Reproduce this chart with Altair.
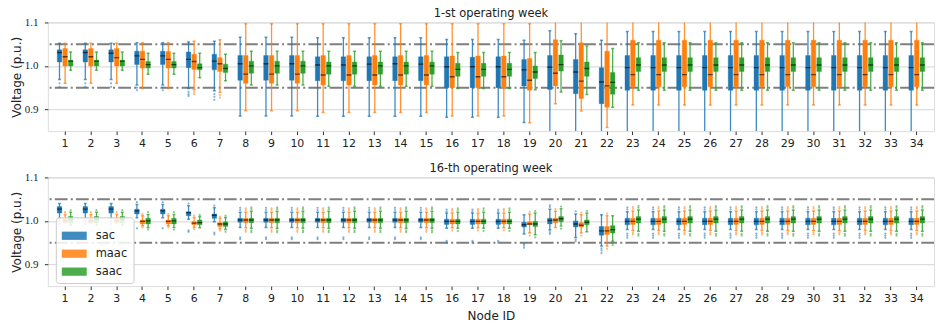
import altair as alt
import pandas as pd

NODES = list(range(1, 35))
SERIES = ["sac", "maac", "saac"]
COLORS = ["#1f77b4", "#ff7f0e", "#2ca02c"]
REF_LEVELS = [0.95, 1.05]
Y_TICKS = [0.9, 1.0, 1.1]
PANEL_TITLES = ["1-st operating week", "16-th operating week"]

# ---------------- week 1 : whisker-low, Q1, median, Q3, whisker-high ----------------
w1_sac_lo = [0.969, 0.969, 0.969, 0.956, 0.956, 0.948, 0.943, 0.885, 0.885, 0.885, 0.884, 0.884, 0.884, 0.884, 0.884, 0.882, 0.882, 0.882, 0.870, 0.80, 0.80, 0.80,
             0.80, 0.80, 0.80, 0.80, 0.80, 0.80, 0.80, 0.80, 0.80, 0.80, 0.80, 0.80]
w1_sac_q1 = [1.009, 1.009, 1.009, 1.003, 1.003, 0.996, 0.991, 0.967, 0.967, 0.967, 0.966, 0.966, 0.966, 0.966, 0.966, 0.950, 0.950, 0.950, 0.954, 0.946, 0.936, 0.913,
             0.944, 0.944, 0.944, 0.944, 0.944, 0.944, 0.944, 0.944, 0.944, 0.944, 0.944, 0.944]
w1_sac_med = [1.031, 1.031, 1.029, 1.023, 1.023, 1.015, 1.011, 1.005, 1.005, 1.005, 1.002, 1.002, 1.004, 1.005, 1.004, 0.998, 0.998, 0.998, 0.991, 0.997, 0.986, 0.963,
              0.996, 0.996, 0.996, 0.996, 0.996, 0.996, 0.996, 0.996, 0.996, 0.996, 0.996, 0.996]
w1_sac_q3 = [1.037, 1.037, 1.037, 1.034, 1.034, 1.032, 1.027, 1.024, 1.024, 1.024, 1.021, 1.021, 1.021, 1.021, 1.021, 1.021, 1.020, 1.021, 1.015, 1.024, 1.015, 0.996,
             1.024, 1.024, 1.024, 1.024, 1.024, 1.024, 1.024, 1.024, 1.024, 1.024, 1.024, 1.024]
w1_sac_hi = [1.052, 1.052, 1.052, 1.053, 1.053, 1.055, 1.057, 1.066, 1.066, 1.066, 1.065, 1.065, 1.065, 1.065, 1.065, 1.061, 1.061, 1.061, 1.059, 1.081, 1.074, 1.059,
             1.079, 1.079, 1.079, 1.079, 1.079, 1.079, 1.079, 1.079, 1.079, 1.079, 1.079, 1.079]

w1_maac_lo = [0.960, 0.960, 0.960, 0.948, 0.948, 0.945, 0.939, 0.897, 0.897, 0.897, 0.893, 0.893, 0.893, 0.893, 0.893, 0.885, 0.885, 0.885, 0.869, 0.913, 0.896, 0.858,
              0.910, 0.910, 0.910, 0.910, 0.910, 0.910, 0.910, 0.910, 0.910, 0.910, 0.910, 0.910]
w1_maac_q1 = [1.000, 1.000, 1.000, 0.995, 0.995, 0.992, 0.987, 0.960, 0.960, 0.960, 0.956, 0.956, 0.956, 0.956, 0.956, 0.950, 0.950, 0.949, 0.944, 0.954, 0.925, 0.905,
              0.952, 0.952, 0.952, 0.952, 0.952, 0.952, 0.952, 0.952, 0.952, 0.952, 0.952, 0.952]
w1_maac_med = [1.021, 1.021, 1.019, 1.015, 1.015, 1.010, 1.005, 0.981, 0.981, 0.981, 0.979, 0.979, 0.979, 0.979, 0.979, 0.975, 0.975, 0.975, 0.967, 0.983, 0.965, 0.954,
               0.980, 0.980, 0.980, 0.980, 0.980, 0.980, 0.980, 0.980, 0.980, 0.980, 0.980, 0.980]
w1_maac_q3 = [1.040, 1.040, 1.040, 1.034, 1.033, 1.027, 1.019, 1.024, 1.024, 1.024, 1.024, 1.024, 1.024, 1.024, 1.024, 1.023, 1.023, 1.023, 1.017, 1.060, 1.053, 1.034,
              1.059, 1.059, 1.059, 1.059, 1.059, 1.059, 1.059, 1.059, 1.059, 1.059, 1.059, 1.059]
w1_maac_hi = [1.052, 1.052, 1.052, 1.053, 1.053, 1.057, 1.060, 1.097, 1.097, 1.097, 1.097, 1.097, 1.097, 1.097, 1.097, 1.097, 1.097, 1.097, 1.097, 1.150, 1.150, 1.150,
              1.150, 1.150, 1.150, 1.150, 1.150, 1.150, 1.150, 1.150, 1.150, 1.150, 1.150, 1.150]

w1_saac_lo = [0.990, 0.990, 0.990, 0.981, 0.981, 0.973, 0.966, 0.956, 0.956, 0.956, 0.953, 0.953, 0.953, 0.953, 0.953, 0.948, 0.948, 0.948, 0.945, 0.940, 0.934, 0.905,
              0.944, 0.944, 0.944, 0.944, 0.944, 0.944, 0.944, 0.944, 0.944, 0.944, 0.944, 0.944]
w1_saac_q1 = [1.000, 1.000, 1.000, 0.995, 0.995, 0.991, 0.985, 0.983, 0.983, 0.983, 0.981, 0.981, 0.981, 0.981, 0.981, 0.976, 0.976, 0.976, 0.971, 0.988, 0.976, 0.935,
              0.987, 0.987, 0.987, 0.987, 0.987, 0.987, 0.987, 0.987, 0.987, 0.987, 0.987, 0.987]
w1_saac_med = [1.011, 1.011, 1.011, 1.003, 1.003, 0.996, 0.994, 1.000, 1.000, 1.000, 1.000, 1.000, 1.000, 1.000, 1.000, 0.992, 0.992, 0.992, 0.986, 1.003, 0.994, 0.962,
               1.002, 1.002, 1.002, 1.002, 1.002, 1.002, 1.002, 1.002, 1.002, 1.002, 1.002, 1.002]
w1_saac_q3 = [1.013, 1.013, 1.013, 1.010, 1.010, 1.005, 1.004, 1.011, 1.011, 1.011, 1.009, 1.009, 1.009, 1.009, 1.009, 1.006, 1.006, 1.006, 1.000, 1.025, 1.009, 0.985,
              1.019, 1.019, 1.019, 1.019, 1.019, 1.019, 1.019, 1.019, 1.019, 1.019, 1.019, 1.019]
w1_saac_hi = [1.032, 1.032, 1.032, 1.029, 1.029, 1.029, 1.027, 1.034, 1.034, 1.034, 1.034, 1.034, 1.034, 1.034, 1.034, 1.031, 1.031, 1.031, 1.031, 1.058, 1.046, 1.040,
              1.053, 1.053, 1.053, 1.053, 1.053, 1.053, 1.053, 1.053, 1.053, 1.053, 1.053, 1.053]

# outliers (one list per node)
w1_sac_fl = [[0.960, 0.952], [0.960, 0.952], [0.960, 0.952], [0.950, 0.944], [0.950, 0.944], [0.940, 0.935, 0.931], [0.935, 0.929, 0.922],
             [], [], [], [], [], [], [], [], [], [], [], [], [], [], [], [], [], [], [], [], [], [], [], [], [], [], []]
w1_maac_fl = [[], [], [], [], [], [0.940, 0.935], [0.933, 0.927],
              [], [], [], [], [], [], [], [], [], [], [], [], [], [], [], [], [], [], [], [], [], [], [], [], [], [], []]
w1_saac_fl = [[], [], [], [], [], [], [], [], [], [], [], [], [], [], [], [], [], [], [], [], [], [], [], [], [], [], [], [], [], [], [], [], [], []]

# ---------------- week 16 ----------------
w16_sac_lo = [1.006, 1.006, 1.006, 1.007, 1.007, 1.004, 0.998, 0.985, 0.985, 0.985, 0.985, 0.985, 0.985, 0.985, 0.985, 0.983, 0.983, 0.983, 0.970, 0.979, 0.962, 0.942,
              0.980, 0.980, 0.980, 0.980, 0.980, 0.980, 0.980, 0.980, 0.980, 0.980, 0.980, 0.980]
w16_sac_q1 = [1.018, 1.018, 1.018, 1.016, 1.016, 1.012, 1.006, 0.997, 0.997, 0.997, 0.997, 0.997, 0.997, 0.997, 0.997, 0.992, 0.992, 0.992, 0.986, 0.993, 0.986, 0.967,
              0.991, 0.991, 0.991, 0.991, 0.991, 0.991, 0.991, 0.991, 0.991, 0.991, 0.991, 0.991]
w16_sac_med = [1.027, 1.027, 1.027, 1.023, 1.023, 1.019, 1.013, 1.002, 1.002, 1.002, 1.002, 1.002, 1.002, 1.002, 1.002, 0.999, 0.999, 0.999, 0.991, 1.001, 0.993, 0.977,
               0.999, 0.999, 0.999, 0.999, 0.999, 0.999, 0.999, 0.999, 0.999, 0.999, 0.999, 0.999]
w16_sac_q3 = [1.033, 1.033, 1.033, 1.027, 1.027, 1.021, 1.016, 1.006, 1.006, 1.006, 1.006, 1.006, 1.006, 1.006, 1.006, 1.004, 1.004, 1.004, 0.997, 1.006, 1.000, 0.987,
              1.006, 1.006, 1.006, 1.006, 1.006, 1.006, 1.006, 1.006, 1.006, 1.006, 1.006, 1.006]
w16_sac_hi = [1.040, 1.040, 1.040, 1.038, 1.038, 1.035, 1.030, 1.020, 1.020, 1.020, 1.020, 1.020, 1.020, 1.020, 1.020, 1.018, 1.018, 1.018, 1.014, 1.027, 1.016, 1.014,
              1.021, 1.021, 1.021, 1.021, 1.021, 1.021, 1.021, 1.021, 1.021, 1.021, 1.021, 1.021]

w16_maac_lo = [0.995, 0.995, 0.995, 0.989, 0.989, 0.985, 0.982, 0.984, 0.984, 0.984, 0.984, 0.984, 0.984, 0.984, 0.984, 0.984, 0.984, 0.984, 0.972, 0.985, 0.972, 0.942,
               0.978, 0.978, 0.978, 0.978, 0.978, 0.978, 0.978, 0.978, 0.978, 0.978, 0.978, 0.978]
w16_maac_q1 = [0.996, 0.996, 0.996, 0.993, 0.993, 0.991, 0.987, 0.996, 0.996, 0.996, 0.996, 0.996, 0.996, 0.996, 0.996, 0.993, 0.993, 0.993, 0.991, 0.996, 0.986, 0.969,
               0.992, 0.992, 0.992, 0.992, 0.992, 0.992, 0.992, 0.992, 0.992, 0.992, 0.992, 0.992]
w16_maac_med = [1.000, 1.000, 1.000, 0.999, 0.999, 0.995, 0.993, 1.002, 1.002, 1.002, 1.002, 1.002, 1.002, 1.002, 1.002, 0.999, 0.999, 0.999, 0.993, 1.002, 0.990, 0.977,
                0.999, 0.999, 0.999, 0.999, 0.999, 0.999, 0.999, 0.999, 0.999, 0.999, 0.999, 0.999]
w16_maac_q3 = [1.006, 1.006, 1.006, 1.002, 1.002, 0.998, 0.996, 1.006, 1.006, 1.006, 1.006, 1.006, 1.006, 1.006, 1.006, 1.004, 1.004, 1.004, 0.998, 1.006, 0.996, 0.987,
               1.006, 1.006, 1.006, 1.006, 1.006, 1.006, 1.006, 1.006, 1.006, 1.006, 1.006, 1.006]
w16_maac_hi = [1.015, 1.015, 1.015, 1.012, 1.012, 1.008, 1.006, 1.020, 1.020, 1.020, 1.020, 1.020, 1.020, 1.020, 1.020, 1.018, 1.018, 1.018, 1.016, 1.022, 1.014, 1.012,
               1.023, 1.023, 1.023, 1.023, 1.023, 1.023, 1.023, 1.023, 1.023, 1.023, 1.023, 1.023]

w16_saac_lo = [0.990, 0.990, 0.990, 0.985, 0.985, 0.984, 0.980, 0.983, 0.983, 0.983, 0.983, 0.983, 0.983, 0.983, 0.983, 0.983, 0.983, 0.983, 0.968, 0.988, 0.975, 0.953,
               0.976, 0.976, 0.976, 0.976, 0.976, 0.976, 0.976, 0.976, 0.976, 0.976, 0.976, 0.976]
w16_saac_q1 = [0.996, 0.996, 0.996, 0.993, 0.993, 0.991, 0.987, 0.996, 0.996, 0.996, 0.996, 0.996, 0.996, 0.996, 0.996, 0.993, 0.993, 0.993, 0.987, 0.998, 0.991, 0.972,
               0.995, 0.995, 0.995, 0.995, 0.995, 0.995, 0.995, 0.995, 0.995, 0.995, 0.995, 0.995]
w16_saac_med = [1.004, 1.004, 1.004, 1.000, 1.000, 0.996, 0.993, 1.002, 1.002, 1.002, 1.002, 1.002, 1.002, 1.002, 1.002, 0.999, 0.999, 0.999, 0.993, 1.005, 0.997, 0.980,
                1.004, 1.004, 1.004, 1.004, 1.004, 1.004, 1.004, 1.004, 1.004, 1.004, 1.004, 1.004]
w16_saac_q3 = [1.010, 1.010, 1.010, 1.006, 1.006, 1.002, 0.998, 1.006, 1.006, 1.006, 1.006, 1.006, 1.006, 1.006, 1.006, 1.004, 1.004, 1.004, 0.999, 1.010, 1.002, 0.989,
               1.010, 1.010, 1.010, 1.010, 1.010, 1.010, 1.010, 1.010, 1.010, 1.010, 1.010, 1.010]
w16_saac_hi = [1.020, 1.020, 1.020, 1.015, 1.015, 1.010, 1.008, 1.022, 1.022, 1.022, 1.022, 1.022, 1.022, 1.022, 1.022, 1.020, 1.020, 1.020, 1.018, 1.028, 1.018, 1.012,
               1.025, 1.025, 1.025, 1.025, 1.025, 1.025, 1.025, 1.025, 1.025, 1.025, 1.025, 1.025]

w16_sac_fl = [[0.999, 0.993], [0.999, 0.993], [0.999, 0.993], [0.983, 1.043], [0.983, 1.043], [0.975, 0.978, 1.040], [0.969, 0.973, 1.035],
              [0.958, 0.962, 1.025, 1.030], [0.958, 0.962, 1.025, 1.030], [0.958, 0.962, 1.025, 1.030], [0.958, 0.962, 1.025, 1.030],
              [0.958, 0.962, 1.025, 1.030], [0.958, 0.962, 1.025, 1.030], [0.958, 0.962, 1.025, 1.030], [0.958, 0.962, 1.025, 1.030],
              [0.950, 0.954, 1.022, 1.026], [0.950, 0.954, 1.022, 1.026], [0.950, 0.954, 1.022, 1.026], [0.938, 0.943, 0.947],
              [0.970, 0.974, 1.032, 1.036], [0.953, 0.957, 1.022], [0.926, 0.932, 0.937],
              [0.961, 0.966, 0.971, 1.026, 1.031], [0.961, 0.966, 0.971, 1.026, 1.031], [0.961, 0.966, 0.971, 1.026, 1.031],
              [0.961, 0.966, 0.971, 1.026, 1.031], [0.961, 0.966, 0.971, 1.026, 1.031], [0.961, 0.966, 0.971, 1.026, 1.031],
              [0.961, 0.966, 0.971, 1.026, 1.031], [0.961, 0.966, 0.971, 1.026, 1.031], [0.961, 0.966, 0.971, 1.026, 1.031],
              [0.961, 0.966, 0.971, 1.026, 1.031], [0.961, 0.966, 0.971, 1.026, 1.031], [0.961, 0.966, 0.971, 1.026, 1.031]]
w16_maac_fl = [[1.020], [1.020], [1.020], [1.016, 0.985], [1.016, 0.985], [1.012, 0.981], [1.010, 0.978],
               [1.025, 1.029, 0.979, 0.975], [1.025, 1.029, 0.979, 0.975], [1.025, 1.029, 0.979, 0.975], [1.025, 1.029, 0.979, 0.975],
               [1.025, 1.029, 0.979, 0.975], [1.025, 1.029, 0.979, 0.975], [1.025, 1.029, 0.979, 0.975], [1.025, 1.029, 0.979, 0.975],
               [1.023, 1.027, 0.978], [1.023, 1.027, 0.978], [1.023, 1.027, 0.978], [1.021, 0.966], [1.027], [1.019, 0.966], [0.936, 1.017],
               [1.028, 1.032, 0.973, 0.969], [1.028, 1.032, 0.973, 0.969], [1.028, 1.032, 0.973, 0.969], [1.028, 1.032, 0.973, 0.969],
               [1.028, 1.032, 0.973, 0.969], [1.028, 1.032, 0.973, 0.969], [1.028, 1.032, 0.973, 0.969], [1.028, 1.032, 0.973, 0.969],
               [1.028, 1.032, 0.973, 0.969], [1.028, 1.032, 0.973, 0.969], [1.028, 1.032, 0.973, 0.969], [1.028, 1.032, 0.973, 0.969]]
w16_saac_fl = [[1.025], [1.025], [1.025], [1.020, 0.980], [1.020, 0.980], [1.014], [1.012, 0.975],
               [1.027, 1.031, 0.978, 0.974], [1.027, 1.031, 0.978, 0.974], [1.027, 1.031, 0.978, 0.974], [1.027, 1.031, 0.978, 0.974],
               [1.027, 1.031, 0.978, 0.974], [1.027, 1.031, 0.978, 0.974], [1.027, 1.031, 0.978, 0.974], [1.027, 1.031, 0.978, 0.974],
               [1.025, 1.029, 0.977], [1.025, 1.029, 0.977], [1.025, 1.029, 0.977], [1.023, 0.962], [1.033, 0.982], [1.023], [0.948, 0.944],
               [1.030, 1.034, 0.970, 0.966], [1.030, 1.034, 0.970, 0.966], [1.030, 1.034, 0.970, 0.966], [1.030, 1.034, 0.970, 0.966],
               [1.030, 1.034, 0.970, 0.966], [1.030, 1.034, 0.970, 0.966], [1.030, 1.034, 0.970, 0.966], [1.030, 1.034, 0.970, 0.966],
               [1.030, 1.034, 0.970, 0.966], [1.030, 1.034, 0.970, 0.966], [1.030, 1.034, 0.970, 0.966], [1.030, 1.034, 0.970, 0.966]]


def box_frame(stats):
    rows = []
    for s in SERIES:
        lo, q1, med, q3, hi = stats[s]
        for i, n in enumerate(NODES):
            rows.append(dict(node=n, series=s, lo=lo[i], q1=q1[i], med=med[i], q3=q3[i], hi=hi[i]))
    return pd.DataFrame(rows)


def flier_frame(fl):
    rows = []
    for s in SERIES:
        for i, n in enumerate(NODES):
            for v in fl[s][i]:
                rows.append(dict(node=n, series=s, value=v))
    return pd.DataFrame(rows, columns=["node", "series", "value"])


w1_box = box_frame({
    "sac": (w1_sac_lo, w1_sac_q1, w1_sac_med, w1_sac_q3, w1_sac_hi),
    "maac": (w1_maac_lo, w1_maac_q1, w1_maac_med, w1_maac_q3, w1_maac_hi),
    "saac": (w1_saac_lo, w1_saac_q1, w1_saac_med, w1_saac_q3, w1_saac_hi),
})
w16_box = box_frame({
    "sac": (w16_sac_lo, w16_sac_q1, w16_sac_med, w16_sac_q3, w16_sac_hi),
    "maac": (w16_maac_lo, w16_maac_q1, w16_maac_med, w16_maac_q3, w16_maac_hi),
    "saac": (w16_saac_lo, w16_saac_q1, w16_saac_med, w16_saac_q3, w16_saac_hi),
})
w1_fl = flier_frame({"sac": w1_sac_fl, "maac": w1_maac_fl, "saac": w1_saac_fl})
w16_fl = flier_frame({"sac": w16_sac_fl, "maac": w16_maac_fl, "saac": w16_saac_fl})
ref_df = pd.DataFrame({"level": REF_LEVELS})

PLOT_W = 889
PLOT_H = 109


def panel(box_df, fl_df, title, last):
    xaxis = alt.Axis(labelAngle=0, title="Node ID" if last else None, labelFont="DejaVu Sans",
                     labelFontSize=11, labelColor="#222", tickColor="#333", tickSize=3.5,
                     labelPadding=3, domain=False, grid=False, titleFont="DejaVu Sans",
                     titleFontSize=12, titleFontWeight="normal", titleColor="#222", titlePadding=7)
    x = alt.X("node:O", scale=alt.Scale(paddingInner=0, paddingOuter=0.168), axis=xaxis)
    xo = alt.XOffset("series:N", scale=alt.Scale(domain=SERIES, paddingInner=0.18, paddingOuter=0.9))
    ysc = alt.Scale(domain=[0.85, 1.1], nice=False, zero=False)
    yaxis = alt.Axis(values=Y_TICKS, format=".1f", title="Voltage (p.u.)", grid=True,
                     gridColor="#dddddd", gridWidth=1.3, labelFont="Liberation Serif", labelFontSize=11,
                     labelColor="#222", tickColor="#333", tickSize=3.5, labelPadding=6.5, domain=False,
                     titleFont="DejaVu Sans", titleFontSize=12, titleFontWeight="normal",
                     titleColor="#222", titlePadding=1)
    cscale = alt.Scale(domain=SERIES, range=COLORS)
    if last:
        legend = alt.Legend(title=None, orient="none", legendX=8, legendY=40, direction="vertical",
                            symbolType="M-1,-0.33L1,-0.33L1,0.33L-1,0.33Z", symbolSize=625,
                            symbolStrokeWidth=0, labelFont="DejaVu Sans", labelFontSize=11.5,
                            labelColor="#222", labelOffset=9, rowPadding=0, padding=6,
                            strokeColor="#cccccc", fillColor="rgba(255,255,255,0.85)",
                            cornerRadius=3)
    else:
        legend = None
    color = alt.Color("series:N", scale=cscale, legend=legend)
    stroke = alt.Stroke("series:N", scale=cscale, legend=None)

    refs = alt.Chart(ref_df).mark_rule(color="#7f7f7f", strokeWidth=2,
                                        strokeDash=[12.8, 3.2, 2, 3.2]).encode(
        y=alt.Y("level:Q", scale=ysc, axis=yaxis))
    base = alt.Chart(box_df)
    whisk = base.mark_rule(strokeWidth=1.3, opacity=0.85, clip=True).encode(
        x=x, xOffset=xo, y=alt.Y("lo:Q", scale=ysc, axis=yaxis), y2="hi:Q", color=color)
    cap_lo = base.mark_tick(size=3, thickness=1.5, clip=True).encode(
        x=x, xOffset=xo, y=alt.Y("lo:Q", scale=ysc, axis=yaxis), color=color)
    cap_hi = base.mark_tick(size=3, thickness=1.5, clip=True).encode(
        x=x, xOffset=xo, y=alt.Y("hi:Q", scale=ysc, axis=yaxis), color=color)
    boxes = base.mark_bar(clip=True, strokeWidth=1, strokeOpacity=0.35).encode(
        x=x, xOffset=xo, y=alt.Y("q1:Q", scale=ysc, axis=yaxis), y2="q3:Q", color=color, stroke=stroke)
    meds = base.mark_tick(size=5, thickness=1.4, color="#000000", opacity=0.6, clip=True).encode(
        x=x, xOffset=xo, y=alt.Y("med:Q", scale=ysc, axis=yaxis))
    fliers = alt.Chart(fl_df).mark_circle(size=5, opacity=0.55, clip=True).encode(
        x=x, xOffset=xo, y=alt.Y("value:Q", scale=ysc, axis=yaxis), color=color)

    return alt.layer(refs, whisk, cap_lo, cap_hi, boxes, meds, fliers).properties(
        width=PLOT_W, height=PLOT_H,
        title=alt.TitleParams(title, font="DejaVu Sans", fontSize=11.5, fontWeight="normal",
                              color="#222", offset=-3, anchor="middle"))


top = panel(w1_box, w1_fl, PANEL_TITLES[0], False)
bottom = panel(w16_box, w16_fl, PANEL_TITLES[1], True)

chart = alt.vconcat(top, bottom, spacing=13.5).resolve_legend(color="independent").properties(
    padding={"left": 9, "top": 7, "right": 0, "bottom": 0}
).configure_view(stroke="#333333", strokeWidth=1.2).configure(background="white")

chart.save("out.html", embed_options={"renderer": "svg", "actions": False})
